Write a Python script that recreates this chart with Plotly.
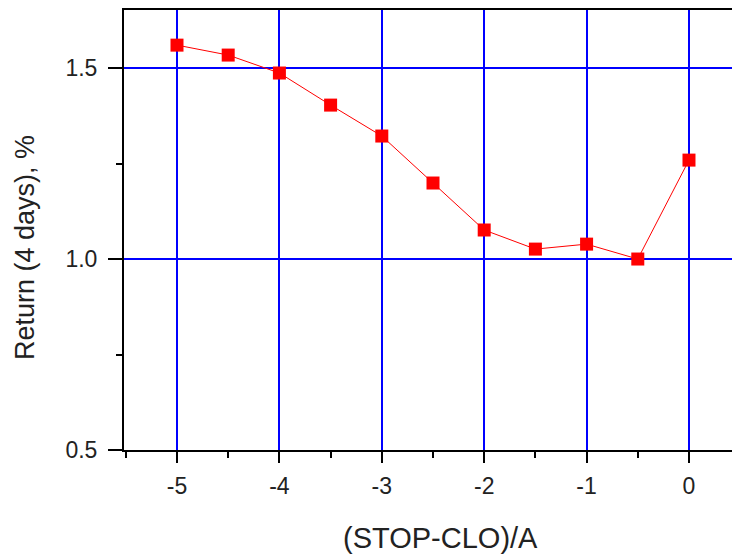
import plotly.graph_objects as go

x_vals = [-5, -4.5, -4, -3.5, -3, -2.5, -2, -1.5, -1, -0.5, 0]
y_vals = [1.560, 1.534, 1.487, 1.403, 1.322, 1.199, 1.076, 1.026, 1.039, 1.000, 1.259]
x_ticks = [-5, -4, -3, -2, -1, 0]
y_ticks = [0.5, 1.0, 1.5]
x_title = "(STOP-CLO)/A"
y_title = "Return (4 days), %"

W, H = 732, 555
L, R, T, B = 124, 0, 10, 105
pw = W - L - R
ph = H - T - B

fig = go.Figure()
fig.add_trace(go.Scatter(
    x=x_vals, y=y_vals, mode="lines+markers",
    line=dict(color="#ff0000", width=1),
    marker=dict(symbol="square", size=13, color="#ff0000"),
    showlegend=False,
))

FAM = "Liberation Sans, Arial, sans-serif"
tfont = dict(family=FAM, size=23, color="#222222")
ytitle_font = dict(family=FAM, size=27, color="#222222")
xtitle_font = dict(family=FAM, size=29, color="#222222")

fig.update_layout(
    width=W, height=H,
    margin=dict(l=L, r=R, t=T, b=B),
    plot_bgcolor="white", paper_bgcolor="white",
    font=tfont,
    xaxis=dict(
        range=[-5.5176, 0.42],
        tickvals=x_ticks, ticktext=[str(v) for v in x_ticks],
        showgrid=True, gridcolor="#0000ff", gridwidth=2,
        zeroline=False,
        showline=True, linecolor="black", linewidth=2, mirror=True,
        ticks="outside", ticklen=11, tickwidth=2, tickcolor="black",
        ticklabelstandoff=3,
        minor=dict(dtick=0.5, tick0=0, ticks="outside", ticklen=6, tickwidth=2,
                   tickcolor="black", showgrid=False),
        tickfont=tfont,
    ),
    yaxis=dict(
        range=[0.5, 1.652],
        tickvals=y_ticks, ticktext=["0.5", "1.0", "1.5"],
        showgrid=True, gridcolor="#0000ff", gridwidth=2,
        zeroline=False,
        showline=True, linecolor="black", linewidth=2, mirror=False,
        ticks="outside", ticklen=14, tickwidth=2, tickcolor="black",
        ticklabelstandoff=6,
        minor=dict(dtick=0.25, tick0=0, ticks="outside", ticklen=6, tickwidth=2,
                   tickcolor="black", showgrid=False),
        tickfont=tfont,
    ),
    annotations=[
        dict(text=y_title, xref="paper", yref="paper",
             x=(25 - L) / pw, y=(T + ph - 248) / ph, textangle=-90,
             showarrow=False, xanchor="center", yanchor="middle",
             font=ytitle_font),
        dict(text=x_title, xref="paper", yref="paper",
             x=(440 - L) / pw, y=(T + ph - 538) / ph,
             showarrow=False, xanchor="center", yanchor="middle",
             font=xtitle_font),
    ],
)

fig.write_html("out.html", config={"displayModeBar": False},
               post_script="document.body.style.margin='0px';")
